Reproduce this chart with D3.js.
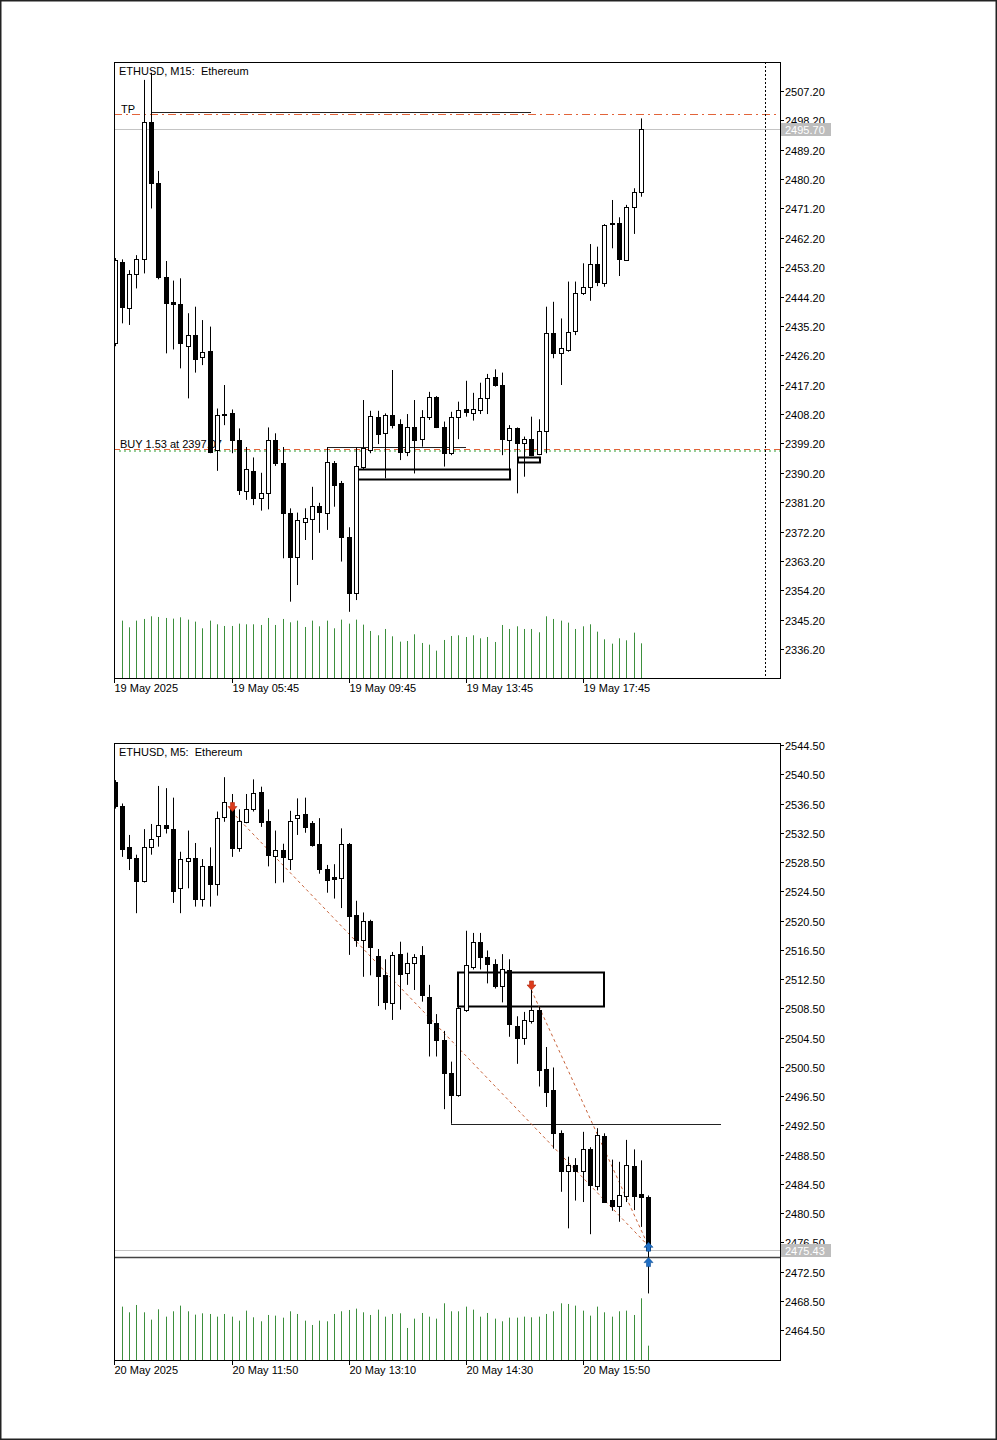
<!DOCTYPE html>
<html><head><meta charset="utf-8">
<script src="https://cdn.jsdelivr.net/npm/d3@7"></script>
<style>
body{margin:0;background:#fff}
text{font-family:"Liberation Sans",Arial,sans-serif;font-size:11px;fill:#000}
</style>
</head><body>
<svg id="c" width="997" height="1440"></svg>
<script>
// ---------- M15 chart data (candle index -1 .. 71) ----------
const m15Open  = [2430.0,2454.9,2440.6,2451.1,2455.6,2497.6,2478.9,2450.1,2442.4,2441.8,2429.1,2432.4,2425.8,2427.6,2397.2,2408.2,2408.4,2400.2,2384.7,2390.8,2382.4,2383.9,2400.2,2393.1,2377.8,2364.5,2375.2,2375.9,2380.0,2378.0,2393.3,2387.0,2370.4,2353.5,2392.1,2397.2,2407.4,2402.3,2407.9,2405.1,2396.7,2404.3,2400.5,2407.2,2413.3,2404.1,2396.2,2407.4,2409.6,2408.6,2409.4,2413.0,2419.5,2417.1,2400.2,2403.8,2399.4,2400.5,2395.9,2403.1,2432.9,2426.8,2427.8,2433.7,2445.4,2447.0,2454.1,2448.5,2466.4,2466.9,2455.4,2471.6,2476.3];
const m15High  = [2456.0,2455.6,2452.3,2456.9,2510.6,2512.8,2482.7,2455.1,2449.1,2449.8,2439.1,2441.1,2437.0,2435.0,2409.9,2417.1,2409.6,2403.8,2398.1,2394.9,2390.2,2404.1,2402.3,2398.1,2379.3,2378.0,2379.3,2385.9,2381.0,2398.0,2393.8,2387.7,2373.5,2398.0,2412.5,2409.2,2409.2,2408.4,2421.7,2406.6,2408.2,2412.5,2409.4,2415.0,2413.7,2405.9,2408.9,2412.0,2418.4,2414.7,2417.8,2420.5,2421.9,2420.9,2404.8,2404.1,2401.3,2407.4,2406.6,2441.1,2442.6,2437.5,2448.8,2448.8,2454.4,2460.3,2459.5,2466.4,2473.8,2468.5,2472.3,2477.4,2498.8];
const m15Low   = [2429.0,2436.0,2435.5,2446.7,2451.3,2471.2,2449.5,2426.8,2428.0,2422.2,2413.0,2420.9,2423.2,2396.2,2390.8,2404.8,2396.2,2383.4,2381.9,2380.3,2378.6,2379.0,2392.3,2364.0,2350.7,2355.8,2369.6,2363.5,2371.8,2372.7,2379.8,2363.0,2347.6,2351.2,2391.3,2396.2,2399.0,2388.5,2403.8,2394.1,2395.3,2390.0,2398.2,2406.4,2403.9,2392.1,2395.6,2400.5,2407.4,2406.2,2408.2,2408.2,2416.6,2395.6,2391.0,2383.9,2389.0,2395.3,2395.6,2396.2,2425.3,2417.1,2427.3,2432.4,2444.7,2442.9,2447.4,2447.2,2459.0,2450.5,2455.1,2463.4,2474.8];
const m15Close = [2455.4,2441.1,2451.1,2455.6,2497.6,2479.1,2450.1,2442.3,2441.8,2429.9,2432.4,2425.0,2427.3,2396.7,2407.9,2407.8,2400.2,2384.9,2391.3,2382.4,2384.1,2400.2,2393.1,2377.8,2364.5,2375.7,2376.2,2380.0,2378.3,2393.6,2386.5,2370.6,2353.3,2392.4,2397.7,2407.6,2402.1,2407.9,2404.8,2396.7,2404.3,2400.2,2407.4,2413.3,2404.1,2396.2,2407.4,2409.4,2408.8,2409.6,2413.0,2419.1,2417.1,2400.5,2403.8,2399.4,2400.5,2395.6,2403.1,2432.9,2426.8,2428.3,2433.4,2445.4,2447.0,2454.1,2448.8,2466.1,2466.6,2455.6,2471.7,2476.3,2495.7];
const m15Volume = [null,1720,1520,1720,1770,1850,1830,1800,1780,1820,1750,1690,1490,1720,1610,1560,1560,1630,1610,1610,1590,1800,1590,1770,1670,1720,1530,1720,1550,1720,1490,1750,1630,1750,1600,1410,1280,1470,1250,1090,1110,1310,1050,1000,820,1140,1260,1280,1230,1280,1190,1230,1080,1590,1470,1550,1470,1470,1370,1850,1770,1720,1660,1470,1550,1610,1390,1160,1030,1190,1130,1360,1040];
const m15PriceTicks = [2507.2,2498.2,2489.2,2480.2,2471.2,2462.2,2453.2,2444.2,2435.2,2426.2,2417.2,2408.2,2399.2,2390.2,2381.2,2372.2,2363.2,2354.2,2345.2,2336.2];
const m15TimeTickIdx = [-1,15,31,47,63];
const m15TimeLabels = ["19 May 2025","19 May 05:45","19 May 09:45","19 May 13:45","19 May 17:45"];
const m15Bid = 2495.70;
const m15TakeProfit = 2500.0;
const m15BuyPrice = 2397.07;
const m15BuyLabel = "BUY 1.53 at 2397.07";
const m15Segments = [{i0:4,i1:56,p:2500.9},{i0:28,i1:47,p:2397.95}];
const m15Boxes = [{i0:32,i1:53,p0:2391.3,p1:2388.2},{i0:54,i1:57,p0:2395.1,p1:2393.5}];
const m15ShiftIdx = 88;

// ---------- M5 chart data (candle index -1 .. 72) ----------
const m5Open  = [2539.5,2536.1,2530.5,2529.0,2525.9,2530.5,2532.0,2533.5,2533.0,2525.0,2528.7,2529.1,2523.5,2527.9,2525.5,2534.6,2536.0,2530.4,2534.0,2535.7,2538.1,2534.1,2529.3,2530.1,2528.9,2534.5,2535.0,2533.9,2531.0,2527.6,2526.4,2526.3,2531.0,2521.2,2517.8,2520.5,2515.6,2513.0,2509.2,2515.9,2513.3,2514.7,2515.8,2510.0,2506.5,2504.1,2499.6,2496.6,2508.3,2514.2,2517.6,2515.5,2514.6,2511.5,2513.7,2506.1,2504.5,2506.8,2508.2,2500.2,2497.3,2491.5,2486.2,2487.1,2486.2,2489.2,2484.2,2491.0,2482.3,2481.5,2482.8,2486.9,2483.1,2482.7];
const m5High  = [2539.7,2536.5,2532.2,2529.5,2533.0,2533.7,2538.9,2538.6,2537.3,2529.9,2532.8,2531.1,2528.9,2530.5,2535.4,2540.1,2537.8,2535.7,2537.8,2539.8,2538.8,2535.7,2532.8,2531.0,2535.5,2537.2,2537.3,2534.1,2534.5,2528.1,2528.2,2533.1,2531.1,2523.2,2521.6,2520.6,2516.6,2515.2,2516.2,2517.6,2516.1,2515.9,2517.0,2511.7,2507.7,2505.4,2501.2,2508.7,2519.1,2518.8,2518.8,2516.4,2515.2,2515.9,2515.2,2507.4,2508.0,2511.0,2508.7,2503.2,2500.4,2491.8,2488.2,2488.0,2491.6,2489.5,2492.1,2491.4,2487.8,2487.5,2490.5,2489.2,2487.7,2482.9];
const m5Low   = [2535.8,2529.2,2527.4,2521.5,2525.7,2529.5,2530.6,2532.4,2522.9,2521.5,2524.9,2522.4,2522.4,2522.4,2523.9,2534.0,2529.2,2529.9,2533.8,2535.4,2533.3,2527.9,2525.6,2525.7,2527.4,2532.2,2532.5,2530.6,2526.9,2524.3,2523.5,2522.2,2515.8,2516.9,2512.8,2513.0,2508.8,2508.3,2506.9,2508.3,2511.7,2511.0,2509.4,2501.9,2501.9,2494.7,2492.7,2496.4,2508.0,2513.8,2513.8,2511.9,2511.2,2509.3,2504.6,2500.9,2503.5,2506.4,2497.8,2495.0,2489.3,2483.4,2478.4,2482.2,2482.0,2477.6,2483.6,2481.9,2480.8,2479.3,2482.0,2480.9,2478.6,2469.5];
const m5Close = [2536.2,2530.3,2529.1,2525.9,2530.6,2531.6,2533.5,2533.1,2524.6,2528.9,2529.1,2523.5,2527.9,2525.5,2534.5,2536.7,2530.4,2534.1,2535.8,2538.0,2534.0,2529.5,2530.1,2529.2,2534.1,2534.9,2533.3,2530.8,2527.5,2526.1,2526.2,2531.0,2521.1,2517.9,2520.5,2516.9,2512.9,2509.3,2515.8,2513.2,2514.7,2515.5,2510.3,2506.5,2504.2,2499.7,2496.6,2508.5,2514.4,2517.6,2515.5,2514.5,2511.5,2513.8,2506.3,2504.5,2506.9,2508.3,2500.0,2497.1,2491.4,2486.2,2487.1,2486.2,2489.3,2484.3,2491.2,2482.0,2481.5,2483.0,2487.1,2482.8,2482.7,2475.43];
const m5Volume = [null,1600,1430,1650,1430,1210,1520,1300,1460,1630,1460,1360,1400,1380,1300,1380,1300,1180,1480,1280,1160,1350,1330,1270,1460,1380,1180,1050,1180,1160,1380,1460,1500,1540,1430,1350,1510,1300,1380,1400,960,1240,1410,1300,1240,1700,1460,1460,1600,1510,1300,1410,1240,1160,1270,1270,1300,1280,1300,1380,1460,1700,1680,1630,1480,1330,1600,1430,1300,1460,1480,1350,1850,430];
const m5PriceTicks = [2544.5,2540.5,2536.5,2532.5,2528.5,2524.5,2520.5,2516.5,2512.5,2508.5,2504.5,2500.5,2496.5,2492.5,2488.5,2484.5,2480.5,2476.5,2472.5,2468.5,2464.5];
const m5TimeTickIdx = [-1,15,31,47,63];
const m5TimeLabels = ["20 May 2025","20 May 11:50","20 May 13:10","20 May 14:30","20 May 15:50"];
const m5Bid = 2475.43;
const m5Level = 2474.44;
const m5Segments = [{i0:45,i1:82,p:2492.7}];
const m5Boxes = [{i0:46,i1:66,p0:2513.5,p1:2508.85}];
const m5TradeLines = [{i0:15,p0:2535.4,i1:72,p1:2476.0},{i0:56,p0:2511.0,i1:72,p1:2476.0}];
const m5SellArrows = [{i:15,p:2535.4},{i:56,p:2511.0}];
const m5BuyArrows = [{i:72,p:2476.5},{i:72,p:2474.4}];

// ---------- drawing ----------
const svg = d3.select('#c');
svg.append('rect').attr('x',0.75).attr('y',0.75).attr('width',995.5).attr('height',1438.5)
  .attr('fill','#fff').attr('stroke','#222').attr('stroke-width',1.5);

function panel(cfg){
  const L=114, R=780, T=cfg.top, B=cfg.bottom;
  const x = d3.scaleLinear().domain([-1,90]).range([114.5,780]);
  const y = d3.scaleLinear().domain(cfg.yDomain).range(cfg.yRange);
  const vy = d3.scaleLinear().domain([0,1850]).range([B, B-61.7]);
  const cx = i => Math.round(x(i));
  const py = p => Math.round(y(p)) + 0.5;
  const g = svg.append('g');
  g.append('clipPath').attr('id',cfg.id).append('rect').attr('x',L).attr('y',T).attr('width',R-L).attr('height',B-T);
  const plot = g.append('g').attr('clip-path',`url(#${cfg.id})`);
  const idx = d3.range(cfg.open.length);
  const ci = j => j-1;

  // volumes
  plot.append('g').selectAll('line').data(idx.filter(j=>cfg.volume[j]!=null)).join('line')
    .attr('x1',j=>cx(ci(j))+0.5).attr('x2',j=>cx(ci(j))+0.5)
    .attr('y1',vy(0)).attr('y2',j=>vy(cfg.volume[j]))
    .attr('stroke','#3d8f3d').attr('stroke-width',1);

  cfg.under(plot, x, y, cx, py);

  // candles
  const cg = plot.append('g');
  cg.selectAll('line').data(idx).join('line')
    .attr('x1',j=>cx(ci(j))+0.5).attr('x2',j=>cx(ci(j))+0.5)
    .attr('y1',j=>y(cfg.high[j])).attr('y2',j=>y(cfg.low[j]))
    .attr('stroke','#000').attr('stroke-width',1);
  cg.selectAll('rect').data(idx).join('rect')
    .attr('x',j=>cx(ci(j))-1.5).attr('width',4)
    .attr('y',j=>py(Math.max(cfg.open[j],cfg.close[j])))
    .attr('height',j=>Math.max(1, py(Math.min(cfg.open[j],cfg.close[j]))-py(Math.max(cfg.open[j],cfg.close[j]))))
    .attr('fill',j=>cfg.close[j]>=cfg.open[j]?'#fff':'#000')
    .attr('stroke','#000').attr('stroke-width',1);

  cfg.over(plot, x, y, cx, py);

  // frame
  g.append('rect').attr('x',L+0.5).attr('y',T+0.5).attr('width',R-L).attr('height',B-T)
    .attr('fill','none').attr('stroke','#000').attr('stroke-width',1);

  // price axis
  const ax = g.append('g');
  const by = py(cfg.bid);
  cfg.ticks.forEach(t=>{
    const yy = py(t);
    ax.append('line').attr('x1',R).attr('x2',R+4).attr('y1',yy).attr('y2',yy).attr('stroke','#000');
    // labels hidden behind the bid box are clipped to their visible top part
    const lab = ax.append('text').attr('x',R+5).attr('y',yy+4).text(t.toFixed(2));
    if (Math.abs(yy-by) < 11) {
      const cid = cfg.id+'lab';
      ax.append('clipPath').attr('id',cid).append('rect').attr('x',R).attr('y',yy-8).attr('width',60).attr('height',Math.max(0,(by-6.5)-(yy-8)));
      lab.attr('clip-path',`url(#${cid})`);
    }
  });
  // bid label
  ax.append('rect').attr('x',R+1).attr('y',by-6.5).attr('width',50).attr('height',13).attr('fill','#bdbdbd');
  ax.append('text').attr('x',R+5).attr('y',by+4).style('fill','#fff').text(cfg.bid.toFixed(2));

  // time axis
  cfg.timeIdx.forEach((ti,k)=>{
    const xx = k===0 ? L+0.5 : cx(ti)+0.5;
    ax.append('line').attr('x1',xx).attr('x2',xx).attr('y1',B).attr('y2',B+5).attr('stroke','#000');
    ax.append('text').attr('x',xx).attr('y',B+14).text(cfg.timeLabels[k]);
  });
  // title
  g.append('text').attr('x',L+5).attr('y',T+13).attr('xml:space','preserve').style('white-space','pre').text(cfg.title);
}

// M15 panel
panel({
  id:'clipTop', top:62, bottom:678, yDomain:[2507.2,2336.2], yRange:[91,649],
  open:m15Open, high:m15High, low:m15Low, close:m15Close, volume:m15Volume,
  ticks:m15PriceTicks, bid:m15Bid, timeIdx:m15TimeTickIdx, timeLabels:m15TimeLabels,
  title:'ETHUSD, M15:  Ethereum',
  under:(p,x,y,cx,py)=>{
    p.append('line').attr('x1',114).attr('x2',780).attr('y1',py(m15Bid)).attr('y2',py(m15Bid)).attr('stroke','#c4c4c4');
    p.append('line').attr('x1',114).attr('x2',780).attr('y1',py(m15TakeProfit)).attr('y2',py(m15TakeProfit))
      .attr('stroke','#e2643a').attr('stroke-dasharray','8,4,2,4');
    p.append('text').attr('x',121).attr('y',py(m15TakeProfit)-2).text('TP');
    const bl = py(m15BuyPrice);
    p.append('line').attr('x1',114).attr('x2',780).attr('y1',bl-1).attr('y2',bl-1)
      .attr('stroke','#e2643a').attr('stroke-dasharray','6,4');
    p.append('line').attr('x1',119).attr('x2',780).attr('y1',bl+0.5).attr('y2',bl+0.5)
      .attr('stroke','#2e9a2e').attr('stroke-dasharray','2,3');
    p.append('text').attr('x',120).attr('y',bl-3).text(m15BuyLabel);
    p.append('line').attr('x1',cx(m15ShiftIdx)+0.5).attr('x2',cx(m15ShiftIdx)+0.5).attr('y1',62).attr('y2',678)
      .attr('stroke','#000').attr('stroke-dasharray','2,2');
    m15Segments.forEach(s=>{
      p.append('line').attr('x1',cx(s.i0)).attr('x2',cx(s.i1)).attr('y1',py(s.p)).attr('y2',py(s.p)).attr('stroke','#222').attr('stroke-width',1.2);
    });
    m15Boxes.forEach(b=>{
      p.append('rect').attr('x',cx(b.i0)+1).attr('y',py(b.p0)).attr('width',cx(b.i1)-cx(b.i0)).attr('height',py(b.p1)-py(b.p0))
        .attr('fill','none').attr('stroke','#000').attr('stroke-width',2);
    });
  },
  over:()=>{}
});

// M5 panel
panel({
  id:'clipBot', top:743, bottom:1360, yDomain:[2544.5,2464.5], yRange:[745,1330],
  open:m5Open, high:m5High, low:m5Low, close:m5Close, volume:m5Volume,
  ticks:m5PriceTicks, bid:m5Bid, timeIdx:m5TimeTickIdx, timeLabels:m5TimeLabels,
  title:'ETHUSD, M5:  Ethereum',
  under:(p,x,y,cx,py)=>{
    p.append('line').attr('x1',114).attr('x2',780).attr('y1',py(m5Bid)).attr('y2',py(m5Bid)).attr('stroke','#c4c4c4');
    p.append('line').attr('x1',114).attr('x2',780).attr('y1',py(m5Level)).attr('y2',py(m5Level)).attr('stroke','#444').attr('stroke-width',1.3);
    m5Segments.forEach(s=>{
      p.append('line').attr('x1',cx(s.i0)).attr('x2',cx(s.i1)).attr('y1',py(s.p)).attr('y2',py(s.p)).attr('stroke','#222').attr('stroke-width',1.2);
    });
    m5Boxes.forEach(b=>{
      p.append('rect').attr('x',cx(b.i0)).attr('y',py(b.p0)).attr('width',cx(b.i1)-cx(b.i0)).attr('height',py(b.p1)-py(b.p0))
        .attr('fill','none').attr('stroke','#000').attr('stroke-width',2);
    });
    m5TradeLines.forEach(t=>{
      p.append('line').attr('x1',x(t.i0)).attr('x2',x(t.i1)).attr('y1',y(t.p0)).attr('y2',y(t.p1))
        .attr('stroke','#c8643c').attr('stroke-dasharray','3,3').attr('stroke-width',1);
    });
  },
  over:(p,x,y,cx,py)=>{
    m5SellArrows.forEach(a=>{
      const X=cx(a.i)+0.5, Y=y(a.p);
      p.append('path').attr('d',`M${X-2},${Y-9}L${X+2},${Y-9}L${X+2},${Y-5}L${X+4.5},${Y-5}L${X},${Y}L${X-4.5},${Y-5}L${X-2},${Y-5}Z`)
        .attr('fill','#dc3b1c').attr('stroke','#b02a10').attr('stroke-width',0.6);
    });
    m5BuyArrows.forEach(a=>{
      const X=cx(a.i)+0.5, Y=y(a.p);
      p.append('path').attr('d',`M${X-2},${Y+9}L${X+2},${Y+9}L${X+2},${Y+5}L${X+4.5},${Y+5}L${X},${Y}L${X-4.5},${Y+5}L${X-2},${Y+5}Z`)
        .attr('fill','#1f6fc5').attr('stroke','#0f4f95').attr('stroke-width',0.6);
    });
  }
});
</script>
</body></html>
